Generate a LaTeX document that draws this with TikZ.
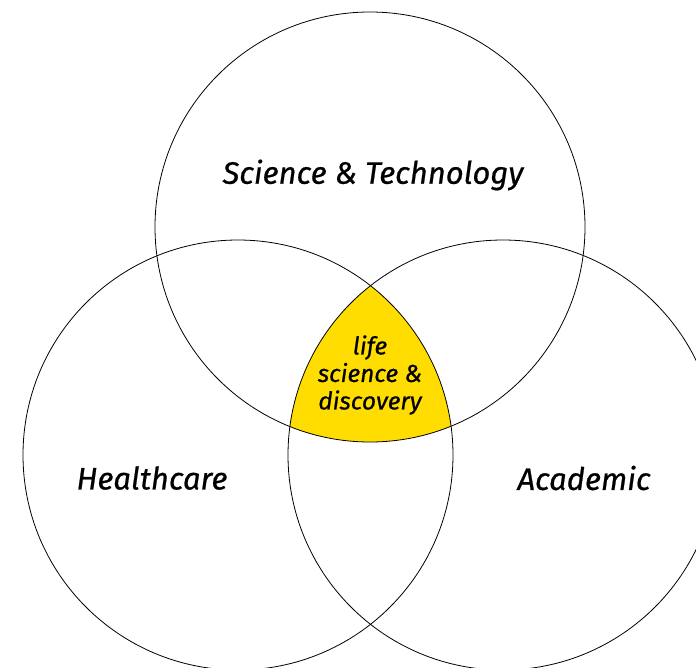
\documentclass[tikz,border=0pt]{standalone}
\usepackage{fontspec}
\setmainfont{Fira Sans}
\newfontfamily\venfont{Fira Sans}[FakeBold=0.6]
\definecolor{lifeyellow}{RGB}{255,221,0}
\begin{document}
\begin{tikzpicture}[x=1pt,y=-1pt,
  ring/.style={line width=0.8pt},
  areatext/.style={font=\venfont\itshape\fontsize{31}{36}\selectfont},
  coretext/.style={align=center,font=\venfont\itshape\fontsize{24.5}{27.5}\selectfont}]
\useasboundingbox (0,0) rectangle (696,667);
\clip (0,0) rectangle (696,667);
\coordinate (sci) at (370,227);
\coordinate (health) at (238,455);
\coordinate (acad) at (503,455);
\begin{scope}
\clip (health) circle (215);
\clip (acad) circle (215);
\fill [lifeyellow] (sci) circle (215);
\end{scope}
\draw [ring] (sci) circle (215);
\draw [ring] (health) circle (215);
\draw [ring] (acad) circle (215);
\node [areatext] (scitext) at (373,175) {Science \& Technology};
\node [areatext] (healthtext) at (152,478) {Healthcare};
\node [areatext] (acadtext) at (584,478) {Academic};
\node [coretext] (coretxt) at (370,375) {life\\science \&\\discovery};
\end{tikzpicture}
\end{document}
